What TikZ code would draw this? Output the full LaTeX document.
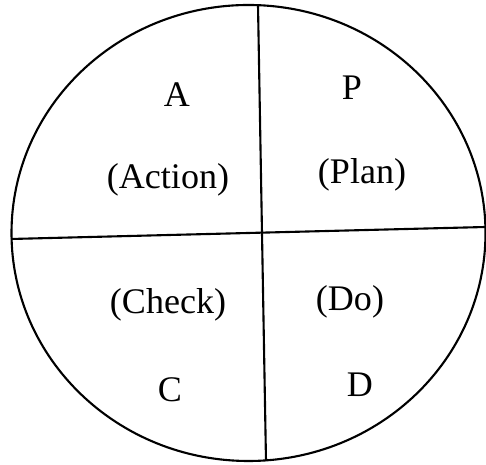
\documentclass[tikz,border=0pt]{standalone}
\usepackage{fontspec}
\setmainfont{Liberation Serif}
\usepackage{tikz}

\begin{document}
\begin{tikzpicture}[every node/.style={font=\fontsize{20.5}{24}\selectfont}, ring/.style={line width=1.2pt}]
	\useasboundingbox (0,0) rectangle (9.72,9.30);
	\draw[ring] (4.97,4.64) ellipse [x radius=4.74cm, y radius=4.56cm];
	\coordinate (top) at (5.16,9.20);
	\coordinate (bottom) at (5.32,0.08);
	\coordinate (left) at (0.22,4.52);
	\coordinate (right) at (9.71,4.76);
	\draw[ring] (top) -- (bottom);
	\draw[ring] (left) -- (right);
	\node (A) at (3.54,7.40) {A};
	\node (P) at (7.04,7.54) {P};
	\node (action) at (3.36,5.70) {(Action)};
	\node (plan) at (7.24,5.80) {(Plan)};
	\node (check) at (3.36,3.20) {(Check)};
	\node (do) at (7.00,3.26) {(Do)};
	\node (C) at (3.40,1.50) {C};
	\node (D) at (7.20,1.60) {D};
\end{tikzpicture}
\end{document}
